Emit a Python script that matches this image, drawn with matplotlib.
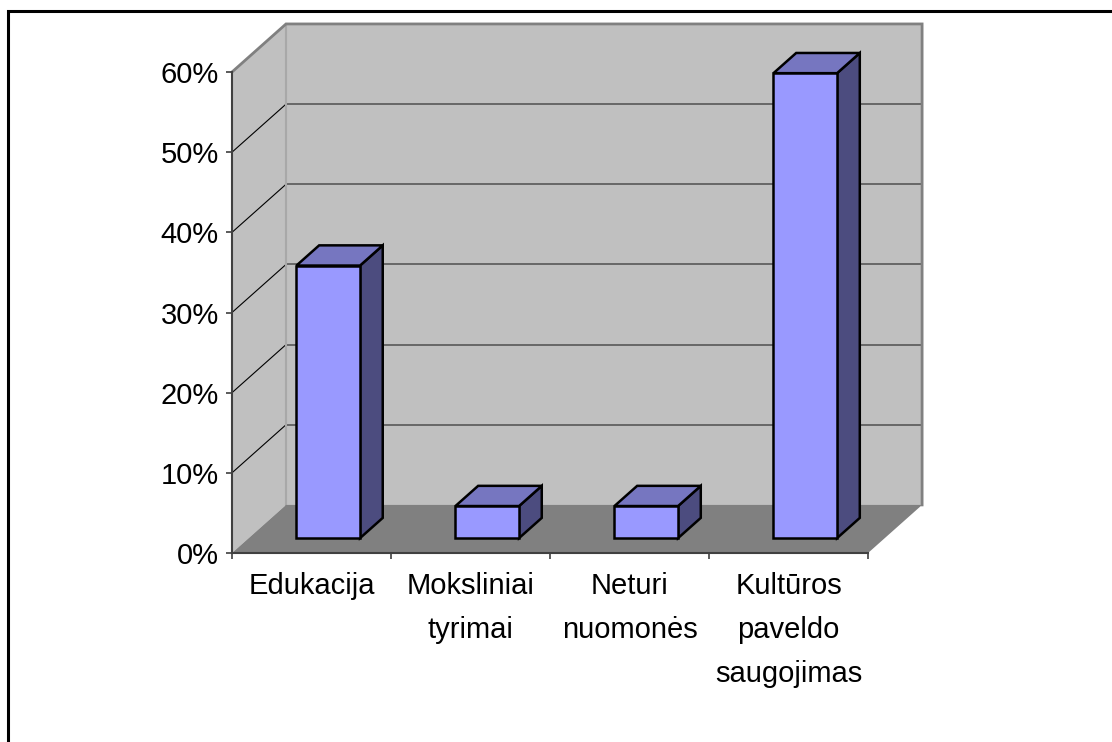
import numpy as np
import matplotlib
matplotlib.use("Agg")
import matplotlib.pyplot as plt
from matplotlib.patches import Polygon, Rectangle

categories = ["Edukacija", "Moksliniai\ntyrimai", "Neturi\nnuomonės", "Kultūros\npaveldo\nsaugojimas"]
shares = [34, 4, 4, 58]  # percent
y_ticks = [0, 10, 20, 30, 40, 50, 60]

plt.rcParams["font.family"] = ["Liberation Sans", "DejaVu Sans"]

fig = plt.figure(figsize=(11.12, 7.42), dpi=100)
ax = fig.add_axes([0.2086, 0.2547, 0.572, 0.6482])
n = len(categories)
ymax = y_ticks[-1]
ax.set_xlim(0, n)
ax.set_ylim(0, ymax)
ax.patch.set_visible(False)

# depth of the fake 3d box, in data units
dx, dy = 0.34, 6.0
z0, z1 = 0.31, 0.73  # bars occupy this slice of the depth
bar_w = 0.4


def poly(pts, fc, ec="none", lw=0, z=1):
    ax.add_patch(Polygon(pts, closed=True, facecolor=fc, edgecolor=ec,
                         linewidth=lw, zorder=z, clip_on=False, joinstyle="miter"))


# walls and floor
poly([(0, 0), (dx, dy), (dx, ymax + dy), (0, ymax)], "#c0c0c0", z=0)
poly([(dx, dy), (n + dx, dy), (n + dx, ymax + dy), (dx, ymax + dy)], "#c0c0c0", z=0)
poly([(0, 0), (n, 0), (n + dx, dy), (dx, dy)], "#808080", z=1)

for v in y_ticks[1:-1]:
    ax.plot([dx, n + dx], [v + dy, v + dy], color="#606060", lw=1.3, zorder=0.5, clip_on=False)
    ax.plot([0, dx], [v, v + dy], color="black", lw=0.8, zorder=0.5, clip_on=False)

ax.plot([dx, dx], [dy, ymax + dy], color="#a8a8a8", lw=1.5, zorder=0.6, clip_on=False)
ax.plot([0, dx, n + dx, n + dx], [ymax, ymax + dy, ymax + dy, dy],
        color="#808080", lw=2, zorder=0.7, clip_on=False, solid_joinstyle="miter")

# bars
ddx, ddy = (z1 - z0) * dx, (z1 - z0) * dy
for i, v in enumerate(shares):
    x0 = i + 0.5 - bar_w / 2 + z0 * dx
    x1 = x0 + bar_w
    yb = z0 * dy
    yt = v + z0 * dy
    poly([(x1, yb), (x1 + ddx, yb + ddy), (x1 + ddx, yt + ddy), (x1, yt)], "#4c4c7f", "black", 1.8, 3)
    poly([(x0, yt), (x1, yt), (x1 + ddx, yt + ddy), (x0 + ddx, yt + ddy)], "#7676c0", "black", 1.8, 3)
    poly([(x0, yb), (x1, yb), (x1, yt), (x0, yt)], "#9999ff", "black", 1.8, 3)

# axes
for s in ["top", "right"]:
    ax.spines[s].set_visible(False)
for s in ["left", "bottom"]:
    ax.spines[s].set_color("#404040")
    ax.spines[s].set_linewidth(1.5)

ax.set_yticks(y_ticks)
ax.set_yticklabels([f"{v}%" for v in y_ticks])
ax.set_xticks(np.arange(n + 1))
ax.set_xticklabels([])
ax.set_xticks(np.arange(n) + 0.5, minor=True)
ax.set_xticklabels(categories, minor=True, linespacing=1.72)
ax.tick_params(axis="both", which="major", direction="out", length=4.5, width=1.2, color="#404040")
ax.tick_params(axis="y", labelsize=21, pad=5)
ax.tick_params(axis="x", which="minor", length=0, labelsize=21, pad=14)

# outer chart border
fig.add_artist(Rectangle((8 / 1112, -0.1), 1.2, (742 - 10.5) / 742 + 0.1,
                         transform=fig.transFigure, fill=False, edgecolor="black", linewidth=2.2))

fig.savefig("out.png", dpi=100)
